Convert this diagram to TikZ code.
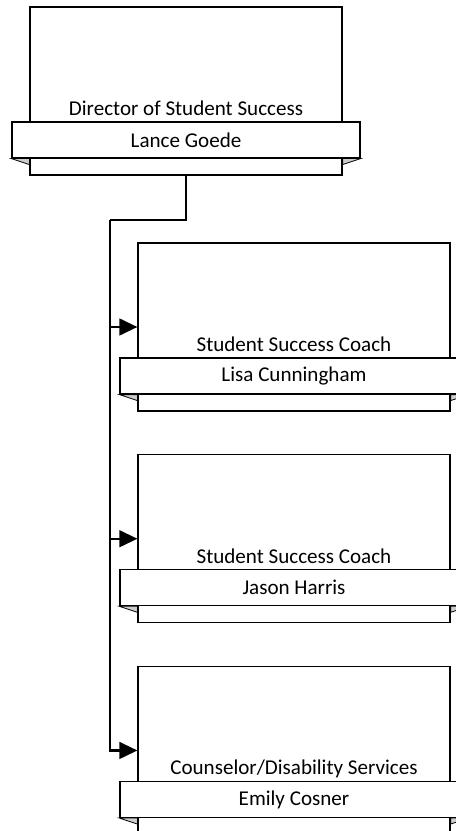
\documentclass[tikz,border=0pt]{standalone}
\usepackage{fontspec}
\setmainfont{Carlito}
\usetikzlibrary{positioning,arrows.meta}

\tikzset{
  card/.style={draw, line width=0.9pt, fill=white, minimum width=234pt, minimum height=126pt, inner sep=0pt},
  band/.style={draw, line width=0.9pt, fill=white, minimum width=261pt, minimum height=27pt, inner sep=0pt, font=\fontsize{15.8}{18}\selectfont},
  roletext/.style={anchor=base, inner sep=0pt, font=\fontsize{15.8}{18}\selectfont},
  fold/.style={draw, line width=0.6pt, fill=black!20},
  link/.style={line width=1.7pt, -{Triangle[length=13.5pt, width=12.5pt]}}
}

\begin{document}
\begin{tikzpicture}[x=0.75pt, y=-0.75pt]
\clip (0,0) rectangle (456,831);

% director
\node (dir_card) at (186,91) [card] {};
\node (dir_band) at (dir_card.south) [band, above=12.75pt] {Lance Goede};
\node (dir_title) at (dir_band.north) [roletext, yshift=4.5pt] {Director of Student Success};
\filldraw[fold] (dir_band.south west) -- (dir_band.south west -| dir_card.west) -- ++(0pt,-4.5pt) -- cycle;
\filldraw[fold] (dir_band.south east) -- (dir_band.south east -| dir_card.east) -- ++(0pt,-4.5pt) -- cycle;

% coaches
\node (coach1_card) at (294,327) [card] {};
\node (coach1_band) at (coach1_card.south) [band, above=12.75pt] {Lisa Cunningham};
\node (coach1_title) at (coach1_band.north) [roletext, yshift=4.5pt] {Student Success Coach};
\filldraw[fold] (coach1_band.south west) -- (coach1_band.south west -| coach1_card.west) -- ++(0pt,-4.5pt) -- cycle;
\filldraw[fold] (coach1_band.south east) -- (coach1_band.south east -| coach1_card.east) -- ++(0pt,-4.5pt) -- cycle;

\node (coach2_card) at (coach1_card.south) [card, below=31.9pt] {};
\node (coach2_band) at (coach2_card.south) [band, above=12.75pt] {Jason Harris};
\node (coach2_title) at (coach2_band.north) [roletext, yshift=4.5pt] {Student Success Coach};
\filldraw[fold] (coach2_band.south west) -- (coach2_band.south west -| coach2_card.west) -- ++(0pt,-4.5pt) -- cycle;
\filldraw[fold] (coach2_band.south east) -- (coach2_band.south east -| coach2_card.east) -- ++(0pt,-4.5pt) -- cycle;

% counselor
\node (couns_card) at (coach2_card.south) [card, below=31.9pt] {};
\node (couns_band) at (couns_card.south) [band, above=12.75pt] {Emily Cosner};
\node (couns_title) at (couns_band.north) [roletext, yshift=4.5pt] {Counselor/Disability Services};
\filldraw[fold] (couns_band.south west) -- (couns_band.south west -| couns_card.west) -- ++(0pt,-4.5pt) -- cycle;
\filldraw[fold] (couns_band.south east) -- (couns_band.south east -| couns_card.east) -- ++(0pt,-4.5pt) -- cycle;

% reporting lines
\coordinate (bus) at (110,220);
\draw[line width=1.7pt] (dir_card.south) |- (bus);
\draw[link] (bus) |- (coach1_card.west);
\draw[link] (bus) |- (coach2_card.west);
\draw[link] (bus) |- (couns_card.west);

\end{tikzpicture}
\end{document}
